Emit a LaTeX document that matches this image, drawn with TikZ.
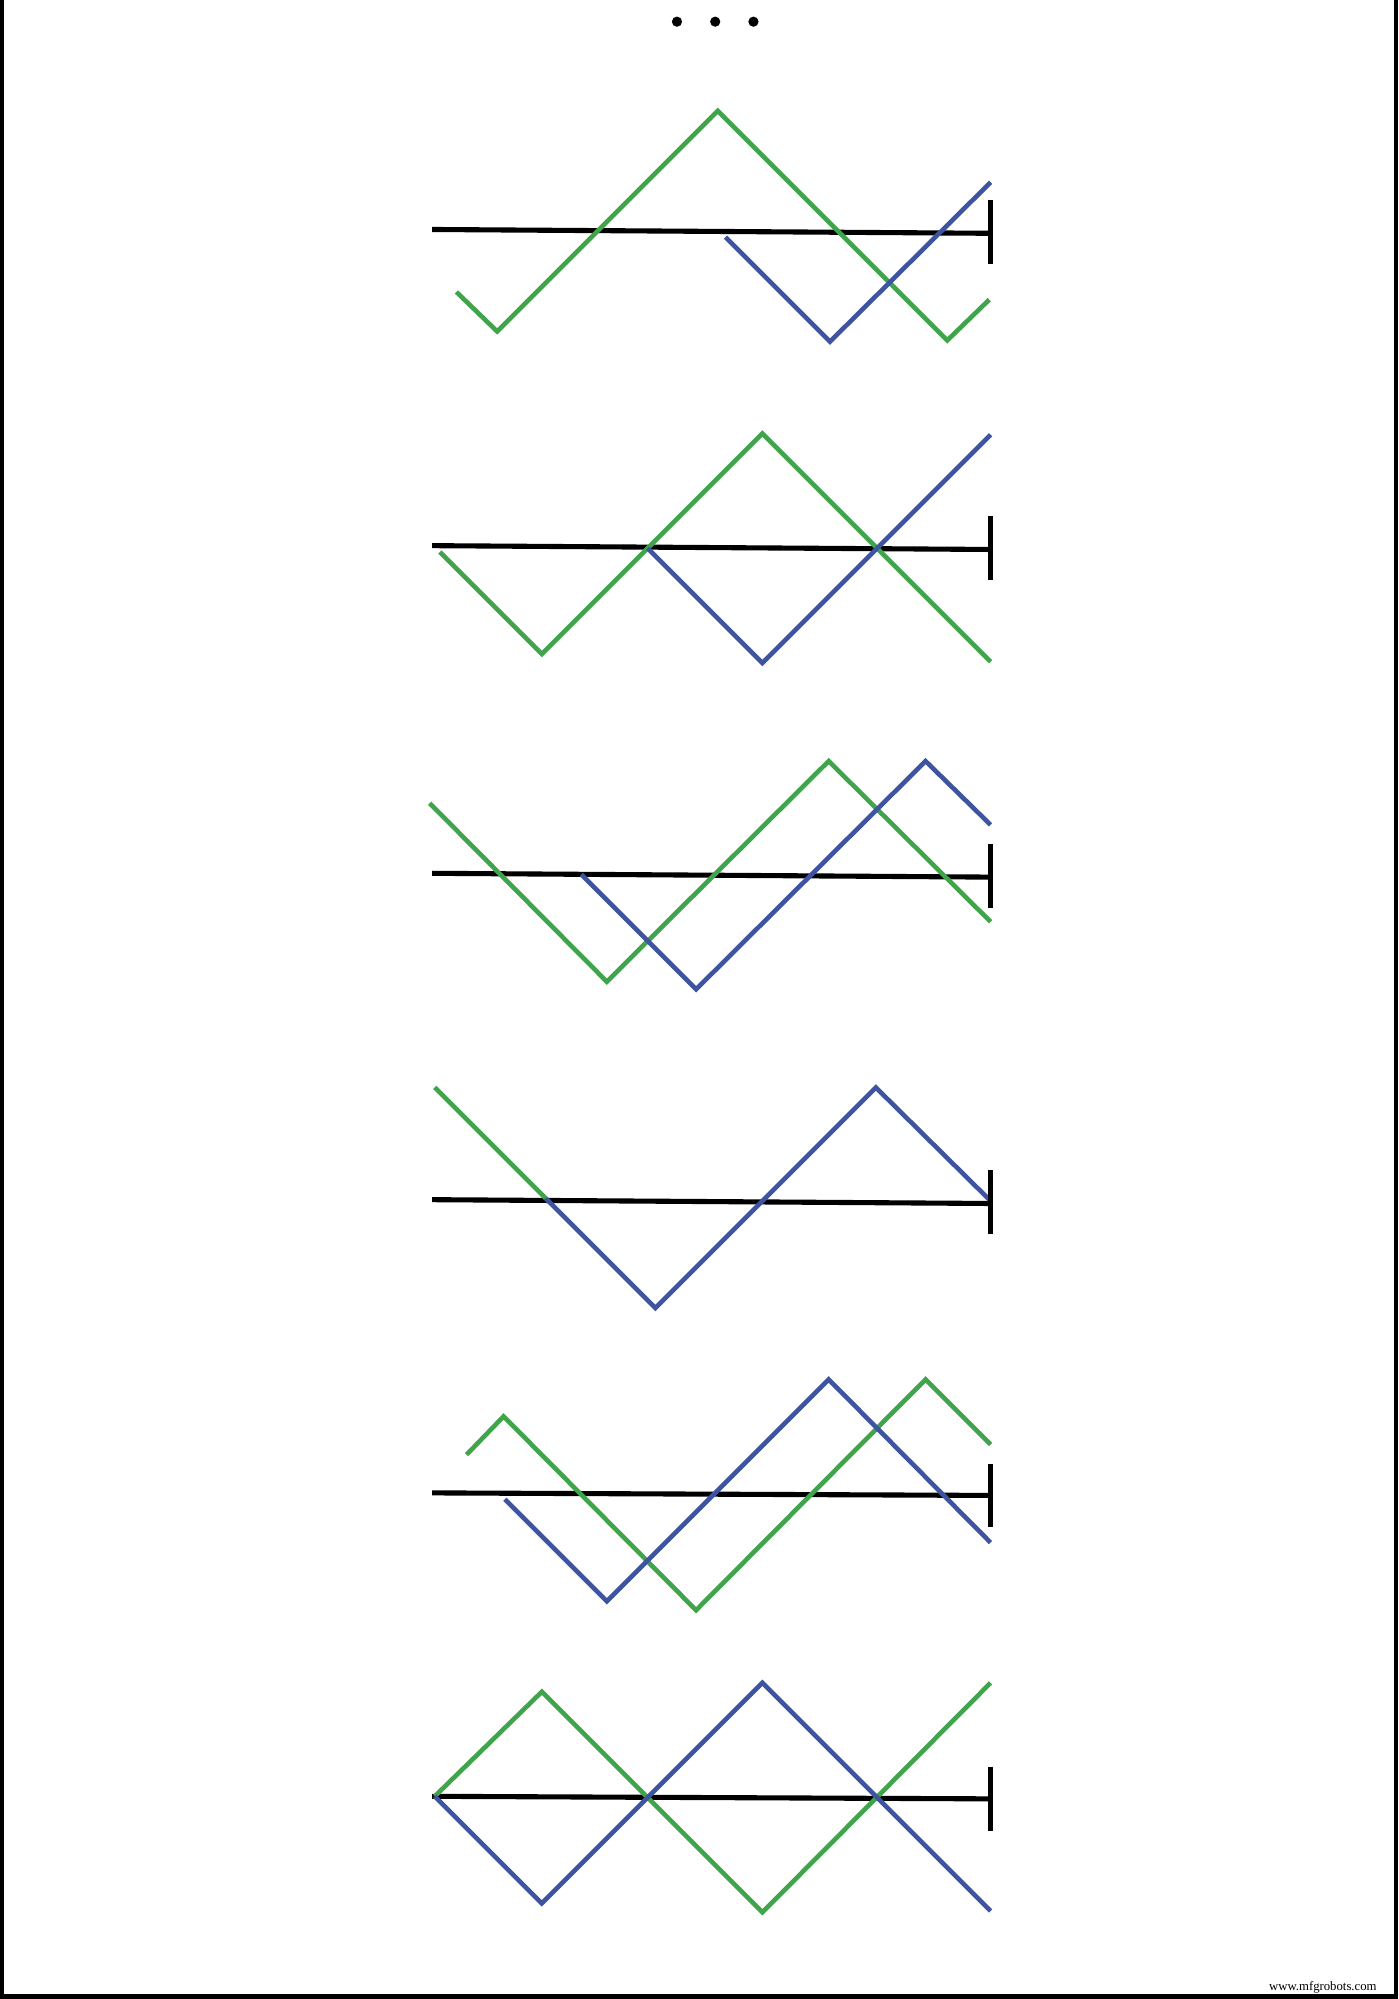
\documentclass[tikz,border=0pt]{standalone}
\usepackage{fontspec}
\setmainfont{Liberation Serif}
\definecolor{wgreen}{RGB}{64,164,74}
\definecolor{wblue}{RGB}{62,84,160}
\tikzset{
  axisline/.style={draw=black, line width=4pt},
  tickmark/.style={draw=black, line width=4pt},
  gwave/.style={draw=wgreen, line width=3.6pt, miter limit=10},
  bwave/.style={draw=wblue, line width=3.6pt, miter limit=10},
  frameline/.style={draw=black, line width=3.6pt},
  dotmark/.style={fill=black},
  wmark/.style={font=\fontsize{10}{11}\selectfont, inner sep=0pt, anchor=base east}
}
\begin{document}
\begin{tikzpicture}[x=1pt,y=-1pt]
\useasboundingbox (0,0) rectangle (1097,1568);
\fill[white] (0,0) rectangle (1097,1568);
% frame
\draw[frameline] (1.6,0) -- (1.6,1566) -- (1095,1566) -- (1095,0);
% dots
\fill[dotmark] (531,17) circle (4);
\fill[dotmark] (561,17) circle (4);
\fill[dotmark] (591,17) circle (4);
% panel 1
\draw[axisline] (339,180) -- (777,183);
\draw[gwave] (358,229) -- (390,260) -- (563,87) -- (743,267) -- (776,235);
\draw[bwave] (569,186) -- (651,268) -- (777,143);
\draw[tickmark] (777,157) -- (777,207);
% panel 2
\draw[axisline] (339,428) -- (777,431);
\draw[gwave] (345,433) -- (425,513) -- (598,340) -- (777,519);
\draw[bwave] (508,430) -- (598,520) -- (777,341);
\draw[tickmark] (777,405) -- (777,455);
% panel 3
\draw[axisline] (339,685) -- (777,688);
\draw[gwave] (337,630) -- (476,770) -- (650,597) -- (777,723);
\draw[bwave] (456,686) -- (546,776) -- (726,597) -- (777,647);
\draw[tickmark] (777,662) -- (777,712);
% panel 4
\draw[axisline] (339,941) -- (777,944);
\draw[gwave] (341,853) -- (428,940);
\draw[bwave] (428,940) -- (514,1026) -- (687,853) -- (777,942);
\draw[tickmark] (777,918) -- (777,968);
% panel 5
\draw[axisline] (339,1171) -- (777,1173);
\draw[gwave] (366,1141) -- (395,1111) -- (546,1263) -- (726,1082) -- (777,1133);
\draw[bwave] (396,1176) -- (476,1256) -- (650,1082) -- (777,1210);
\draw[tickmark] (777,1148) -- (777,1198);
% panel 6
\draw[axisline] (339,1409) -- (777,1411);
\draw[gwave] (341,1409) -- (425,1327) -- (598,1500) -- (777,1320);
\draw[bwave] (341,1409) -- (425,1493) -- (598,1320) -- (777,1499);
\draw[tickmark] (777,1386) -- (777,1436);
% watermark
\node[wmark] (wm) at (1080,1561) {www.mfgrobots.com};
\end{tikzpicture}
\end{document}
